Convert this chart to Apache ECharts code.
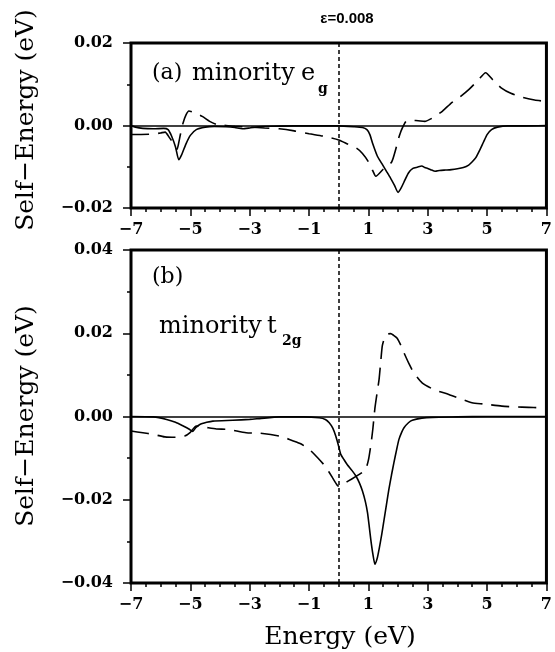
<!DOCTYPE html>
<html><head><meta charset="utf-8">
<script src="https://cdn.jsdelivr.net/npm/echarts@6/dist/echarts.min.js"></script>
<style>html,body{margin:0;padding:0;background:#fff}#c{width:555px;height:652px}</style>
</head><body><div id="c"></div>
<script>
// ---- data ----
const topSolidE = [-7.0,-6.85,-6.6,-6.25,-5.9,-5.75,-5.63,-5.5,-5.39,-5.3,-5.15,-5.0,-4.8,-4.5,-4.2,-3.8,-3.5,-3.25,-3.0,-2.7,-2.3,-1.5,-0.5,0.0,0.5,0.8,0.95,1.05,1.15,1.3,1.45,1.6,1.75,1.88,2.0,2.1,2.2,2.35,2.5,2.65,2.8,2.9,3.0,3.1,3.25,3.4,3.6,3.8,4.0,4.2,4.38,4.5,4.62,4.75,4.88,5.0,5.15,5.35,5.7,6.2,7.0];
const topSolidV = [0.0,-0.0004,-0.0007,-0.0008,-0.0007,-0.0010,-0.0026,-0.0052,-0.0083,-0.0072,-0.0045,-0.0024,-0.0010,-0.0004,-0.0002,-0.0003,-0.0005,-0.0008,-0.0006,-0.0003,-0.0002,-0.0001,-0.0001,-0.0001,-0.0003,-0.0005,-0.0010,-0.0022,-0.0045,-0.0074,-0.0092,-0.0110,-0.0128,-0.0145,-0.0162,-0.0152,-0.0137,-0.0115,-0.0104,-0.0101,-0.0098,-0.0102,-0.0104,-0.0107,-0.0111,-0.0109,-0.0108,-0.0107,-0.0105,-0.0102,-0.0096,-0.0088,-0.0078,-0.0060,-0.0040,-0.0022,-0.0010,-0.0004,-0.0001,-0.0001,0.0];
const topDashE = [-7.0,-6.25,-6.0,-5.85,-5.7,-5.55,-5.45,-5.4,-5.33,-5.25,-5.15,-5.05,-4.9,-4.6,-4.35,-4.1,-3.8,-3.5,-3.0,-2.5,-2.0,-1.5,-1.0,-0.5,0.0,0.3,0.6,0.8,1.0,1.15,1.25,1.5,1.78,1.92,2.0,2.12,2.3,2.6,2.9,3.2,3.5,3.8,4.1,4.4,4.7,4.95,5.2,5.5,5.8,6.2,6.6,7.0];
const topDashV = [-0.0022,-0.0021,-0.0018,-0.0016,-0.0030,-0.0045,-0.0058,-0.0045,-0.0020,0.0005,0.0025,0.0035,0.0032,0.0022,0.0010,0.0002,0.0,-0.0002,-0.0004,-0.0006,-0.0008,-0.0013,-0.0020,-0.0026,-0.0035,-0.0045,-0.0055,-0.0068,-0.0088,-0.0110,-0.0123,-0.0106,-0.0089,-0.0058,-0.0035,-0.0010,0.0012,0.0012,0.0010,0.0020,0.0035,0.0055,0.0070,0.0088,0.0110,0.0128,0.0110,0.0090,0.0078,0.0068,0.0062,0.0058];

const botSolidE = [-7.0,-6.25,-5.8,-5.5,-5.24,-5.05,-4.92,-4.82,-4.68,-4.45,-4.24,-3.57,-3.0,-2.67,-2.0,-1.2,-0.66,-0.45,-0.32,-0.2,-0.1,0.0,0.07,0.18,0.29,0.45,0.58,0.7,0.8,0.9,0.97,1.03,1.08,1.15,1.22,1.3,1.36,1.45,1.53,1.61,1.69,1.78,1.86,1.95,2.03,2.12,2.2,2.35,2.48,2.8,3.15,4.0,5.0,7.0];
const botSolidV = [0.0,-0.0001,-0.0007,-0.0014,-0.0023,-0.0030,-0.0036,-0.0027,-0.0019,-0.0014,-0.0011,-0.0009,-0.0007,-0.0005,-0.0001,-0.0001,-0.0003,-0.0007,-0.0015,-0.0028,-0.0047,-0.0072,-0.0091,-0.0104,-0.0116,-0.0130,-0.0143,-0.0160,-0.0179,-0.0205,-0.0231,-0.0265,-0.0295,-0.0330,-0.0355,-0.0340,-0.0319,-0.0283,-0.0247,-0.0211,-0.0175,-0.0140,-0.0111,-0.0080,-0.0055,-0.0038,-0.0027,-0.0015,-0.0009,-0.0004,-0.0002,-0.0001,0.0,0.0];
const botDashE = [-7.0,-6.6,-6.25,-5.86,-5.5,-5.19,-5.0,-4.8,-4.5,-4.12,-3.73,-3.12,-2.67,-2.0,-1.66,-1.3,-0.99,-0.71,-0.45,-0.21,-0.05,0.02,0.3,0.58,0.8,0.91,1.0,1.08,1.15,1.22,1.3,1.36,1.42,1.47,1.55,1.65,1.75,1.85,1.97,2.1,2.2,2.38,2.53,2.81,3.2,3.71,4.2,4.49,4.88,5.5,5.95,6.4,6.75];
const botDashV = [-0.0035,-0.0039,-0.0043,-0.0049,-0.0050,-0.0047,-0.0038,-0.0023,-0.0026,-0.0030,-0.0031,-0.0039,-0.0040,-0.0047,-0.0055,-0.0065,-0.0079,-0.0099,-0.0120,-0.0147,-0.0165,-0.0168,-0.0156,-0.0144,-0.0134,-0.0127,-0.0105,-0.0070,-0.0030,0.0020,0.0060,0.0089,0.0135,0.0170,0.0190,0.0198,0.0199,0.0195,0.0188,0.0170,0.0153,0.0125,0.0105,0.0081,0.0065,0.0053,0.0040,0.0033,0.0030,0.0025,0.0023,0.0022,0.0021];

const xTickLabels = ['−7','−5','−3','−1','1','3','5','7'];
const topYTickLabels = ['−0.02','0.00','0.02'];
const botYTickLabels = ['−0.04','−0.02','0.00','0.02','0.04'];
const titleText = 'ε=0.008';

// ---- chart ----
const pair = (E, V) => E.map((e, i) => [e, V[i]]);
const serif = 'DejaVu Serif';
const tickFont = {fontFamily: serif, fontWeight: 'bold', fontSize: 16, color: '#000'};

function hiddenX(gi) {
  return {gridIndex: gi, type: 'value', min: -7, max: 7, show: false,
    axisLine: {show: false, onZero: false}, axisTick: {show: false}, axisLabel: {show: false}, splitLine: {show: false}};
}
function tickX(gi) {
  return {gridIndex: gi, type: 'value', min: 0, max: 14, interval: 2, position: 'bottom',
    axisLine: {show: false, onZero: false}, splitLine: {show: false},
    axisTick: {show: true, inside: false, length: 8, lineStyle: {color: '#000', width: 1.5}},
    minorTick: {show: true, splitNumber: 4, length: 4, lineStyle: {color: '#000', width: 1.5}},
    axisLabel: Object.assign({margin: 14, formatter: (v) => xTickLabels[Math.round(v / 2)]}, tickFont)};
}
function yAx(gi, lim, labels) {
  return {gridIndex: gi, type: 'value', min: -lim, max: lim, interval: 0.02, position: 'left',
    axisLine: {show: false, onZero: false}, splitLine: {show: false},
    axisTick: {show: true, inside: false, length: 8, lineStyle: {color: '#000', width: 1.5}},
    minorTick: {show: true, splitNumber: 2, length: 4, lineStyle: {color: '#000', width: 1.5}},
    axisLabel: Object.assign({margin: 18, formatter: (v) => labels[Math.round((v + lim) / 0.02)]}, tickFont)};
}
const refLines = {
  silent: true, symbol: 'none', label: {show: false},
  data: [
    {yAxis: 0, lineStyle: {type: 'solid', width: 1.5, color: '#000'}},
    {xAxis: 0, lineStyle: {type: [4, 3], width: 1.5, color: '#000'}}
  ]
};
function line(xi, yi, data, dashed, withRef) {
  const s = {type: 'line', xAxisIndex: xi, yAxisIndex: yi, data: data, showSymbol: false, symbol: 'none',
    smooth: 0.2, animation: false,
    lineStyle: {color: '#000', width: 1.6, type: dashed ? [18, 9] : 'solid'}};
  if (withRef) s.markLine = refLines;
  return s;
}

const chart = echarts.init(document.getElementById('c'), null, {renderer: 'canvas'});
chart.setOption({
  backgroundColor: '#fff',
  animation: false,
  title: {text: titleText, left: 342, top: 6, textAlign: 'center',
    textStyle: {fontFamily: 'Liberation Sans', fontWeight: 'bold', fontSize: 15, color: '#000'}},
  grid: [
    {left: 131, top: 43, width: 417, height: 165, show: true, borderColor: '#000', borderWidth: 3, backgroundColor: 'transparent'},
    {left: 131, top: 250, width: 417, height: 333, show: true, borderColor: '#000', borderWidth: 3, backgroundColor: 'transparent'}
  ],
  xAxis: [hiddenX(0), tickX(0), hiddenX(1), tickX(1)],
  yAxis: [yAx(0, 0.02, topYTickLabels), yAx(1, 0.04, botYTickLabels)],
  series: [
    line(0, 0, pair(topSolidE, topSolidV), false, true),
    line(0, 0, pair(topDashE, topDashV), true, false),
    line(2, 1, pair(botSolidE, botSolidV), false, true),
    line(2, 1, pair(botDashE, botDashV), true, false)
  ],
  graphic: [
    {type: 'text', x: 26, y: 120, rotation: Math.PI / 2, style: {text: 'Self−Energy (eV)', font: '25px "DejaVu Serif"', fill: '#000', textAlign: 'center', textVerticalAlign: 'middle'}},
    {type: 'text', x: 26, y: 416, rotation: Math.PI / 2, style: {text: 'Self−Energy (eV)', font: '25px "DejaVu Serif"', fill: '#000', textAlign: 'center', textVerticalAlign: 'middle'}},
    {type: 'text', x: 340, y: 637, style: {text: 'Energy (eV)', font: '25px "DejaVu Serif"', fill: '#000', textAlign: 'center', textVerticalAlign: 'middle'}},
    {type: 'text', x: 152, y: 73, style: {text: '(a)', font: '22px "DejaVu Serif"', fill: '#000', textAlign: 'left', textVerticalAlign: 'middle'}},
    {type: 'text', x: 192, y: 74, style: {text: 'minority', font: '24px "DejaVu Serif"', fill: '#000', textAlign: 'left', textVerticalAlign: 'middle'}},
    {type: 'text', x: 301, y: 74, style: {text: 'e', font: '24px "DejaVu Serif"', fill: '#000', textAlign: 'left', textVerticalAlign: 'middle'}},
    {type: 'text', x: 318, y: 89, style: {text: 'g', font: 'bold 14px "DejaVu Serif"', fill: '#000', textAlign: 'left', textVerticalAlign: 'middle'}},
    {type: 'text', x: 152, y: 277, style: {text: '(b)', font: '22px "DejaVu Serif"', fill: '#000', textAlign: 'left', textVerticalAlign: 'middle'}},
    {type: 'text', x: 159, y: 327, style: {text: 'minority', font: '24px "DejaVu Serif"', fill: '#000', textAlign: 'left', textVerticalAlign: 'middle'}},
    {type: 'text', x: 267, y: 327, style: {text: 't', font: '24px "DejaVu Serif"', fill: '#000', textAlign: 'left', textVerticalAlign: 'middle'}},
    {type: 'text', x: 282, y: 341, style: {text: '2g', font: 'bold 14px "DejaVu Serif"', fill: '#000', textAlign: 'left', textVerticalAlign: 'middle'}}
  ]
});
</script></body></html>
